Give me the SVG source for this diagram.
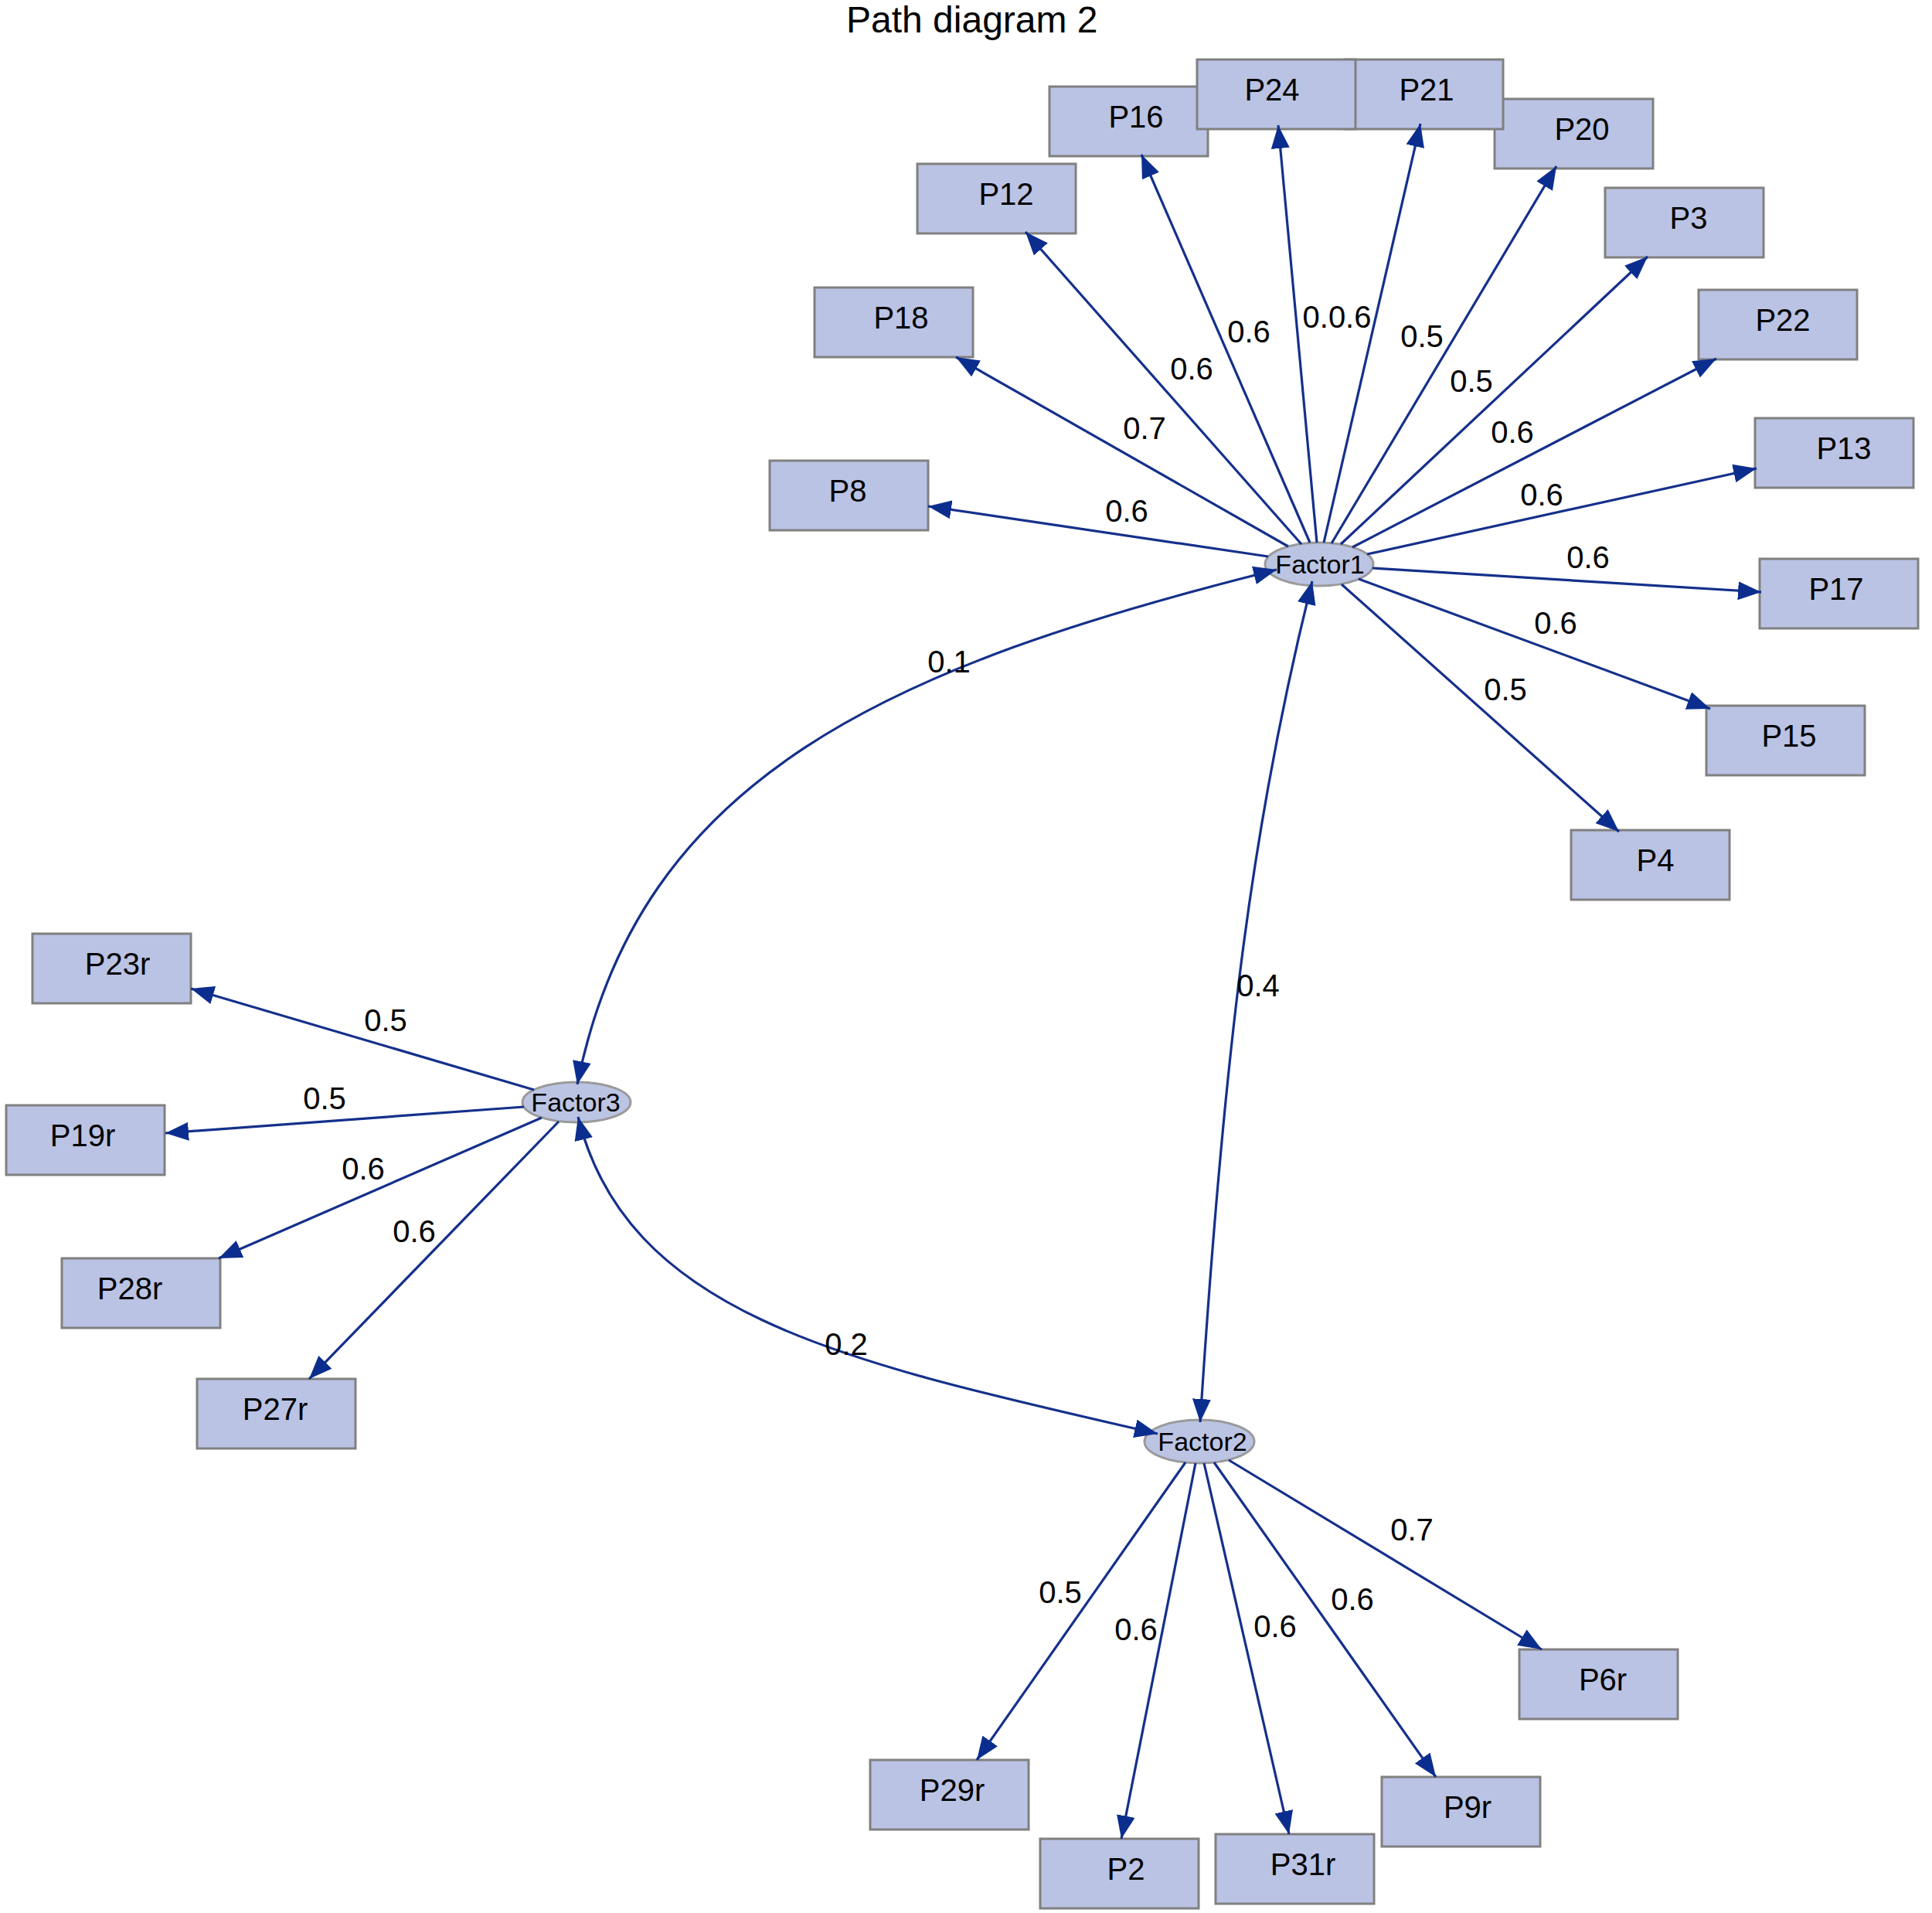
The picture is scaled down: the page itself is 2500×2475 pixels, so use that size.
<svg xmlns="http://www.w3.org/2000/svg" width="2500" height="2475" viewBox="0 0 2500 2475">
<defs>
<style>
text{font-family:"Liberation Sans",Arial,sans-serif;fill:#000}
.box rect{fill:#bac3e4;stroke:#808080;stroke-width:3}
.box text{font-size:40px;text-anchor:middle}
.fac ellipse{fill:#bcc4e4;stroke:#9a9a9a;stroke-width:3}
.fac text{font-size:34px;text-anchor:middle}
.e{stroke:#15308b;stroke-width:3.2;fill:none;marker-end:url(#ah)}
.c{marker-start:url(#ah)}
.lbl{font-size:40px;text-anchor:middle}
.title{font-size:48px}
</style>
<marker id="ah" viewBox="0 0 30 24" refX="30" refY="12" markerWidth="30" markerHeight="24" markerUnits="userSpaceOnUse" orient="auto-start-reverse"><path d="M0,0 L30,12 L0,24 z" fill="#0b2e8e"/></marker>
</defs>
<rect width="2500" height="2475" fill="#fff"/>
<text class="title" x="1095" y="42">Path diagram 2</text>

<g id="nodes">
<g id="P16" class="box"><rect x="1358" y="112" width="205" height="90"/><text x="1470" y="165">P16</text></g>
<g id="P20" class="box"><rect x="1934" y="128" width="205" height="90"/><text x="2047" y="181">P20</text></g>
<g id="P21" class="box"><rect x="1740" y="77" width="205" height="90"/><text x="1846" y="130">P21</text></g>
<g id="P24" class="box"><rect x="1549" y="77" width="205" height="90"/><text x="1646" y="130">P24</text></g>
<g id="P12" class="box"><rect x="1187" y="212" width="205" height="90"/><text x="1302" y="265">P12</text></g>
<g id="P3" class="box"><rect x="2077" y="243" width="205" height="90"/><text x="2185" y="296">P3</text></g>
<g id="P18" class="box"><rect x="1054" y="372" width="205" height="90"/><text x="1166" y="425">P18</text></g>
<g id="P22" class="box"><rect x="2198" y="375" width="205" height="90"/><text x="2307" y="428">P22</text></g>
<g id="P13" class="box"><rect x="2271" y="541" width="205" height="90"/><text x="2386" y="594">P13</text></g>
<g id="P8" class="box"><rect x="996" y="596" width="205" height="90"/><text x="1097" y="649">P8</text></g>
<g id="P17" class="box"><rect x="2277" y="723" width="205" height="90"/><text x="2376" y="776">P17</text></g>
<g id="P15" class="box"><rect x="2208" y="913" width="205" height="90"/><text x="2315" y="966">P15</text></g>
<g id="P4" class="box"><rect x="2033" y="1074" width="205" height="90"/><text x="2142" y="1127">P4</text></g>
<g id="P23r" class="box"><rect x="42" y="1208" width="205" height="90"/><text x="152" y="1261">P23r</text></g>
<g id="P19r" class="box"><rect x="8" y="1430" width="205" height="90"/><text x="107" y="1483">P19r</text></g>
<g id="P28r" class="box"><rect x="80" y="1628" width="205" height="90"/><text x="168" y="1681">P28r</text></g>
<g id="P27r" class="box"><rect x="255" y="1784" width="205" height="90"/><text x="356" y="1837">P27r</text></g>
<g id="P6r" class="box"><rect x="1966" y="2134" width="205" height="90"/><text x="2074" y="2187">P6r</text></g>
<g id="P29r" class="box"><rect x="1126" y="2277" width="205" height="90"/><text x="1232" y="2330">P29r</text></g>
<g id="P2" class="box"><rect x="1346" y="2379" width="205" height="90"/><text x="1457" y="2432">P2</text></g>
<g id="P31r" class="box"><rect x="1573" y="2373" width="205" height="90"/><text x="1686" y="2426">P31r</text></g>
<g id="P9r" class="box"><rect x="1788" y="2299" width="205" height="90"/><text x="1899" y="2352">P9r</text></g>
<g id="Factor1" class="fac"><ellipse cx="1707" cy="730" rx="70" ry="28"/><text x="1708" y="742">Factor1</text></g>
<g id="Factor3" class="fac"><ellipse cx="746" cy="1426" rx="70" ry="26"/><text x="745" y="1438">Factor3</text></g>
<g id="Factor2" class="fac"><ellipse cx="1552" cy="1865" rx="71" ry="28"/><text x="1556" y="1877">Factor2</text></g>
</g>

<g id="connectors">
<path class="e" d="M1641,720 L1201,655"/>
<path class="e" d="M1667,707 L1237,462"/>
<path class="e" d="M1684,704 L1327,300"/>
<path class="e" d="M1695,702 L1477,200"/>
<path class="e" d="M1704,702 L1654,162"/>
<path class="e" d="M1713,702 L1838,160"/>
<path class="e" d="M1723,703 L2014,215"/>
<path class="e" d="M1735,704 L2132,332"/>
<path class="e" d="M1750,708 L2221,464"/>
<path class="e" d="M1769,717 L2273,606"/>
<path class="e" d="M1776,735 L2279,766"/>
<path class="e" d="M1758,749 L2213,917"/>
<path class="e" d="M1736,756 L2095,1076"/>
<path class="e" d="M691,1410 L247,1279"/>
<path class="e" d="M678,1432 L214,1466"/>
<path class="e" d="M701,1446 L283,1628"/>
<path class="e" d="M723,1451 L400,1784"/>
<path class="e" d="M1534,1892 L1264,2277"/>
<path class="e" d="M1547,1893 L1451,2379"/>
<path class="e" d="M1558,1893 L1668,2373"/>
<path class="e" d="M1571,1892 L1858,2299"/>
<path class="e" d="M1590,1889 L1995,2134"/>
<path class="e c" d="M747,1403 C827,1003 1152,862 1652,737"/>
<path class="e c" d="M1698,752 C1623,1052 1585,1340 1553,1840"/>
<path class="e c" d="M748,1445 C813,1705 1098,1763 1498,1855"/>
<text class="lbl" x="1458" y="675">0.6</text>
<text class="lbl" x="1481" y="568">0.7</text>
<text class="lbl" x="1542" y="491">0.6</text>
<text class="lbl" x="1616" y="443">0.6</text>
<text class="lbl" x="1730" y="424">0.0.6</text>
<text class="lbl" x="1840" y="449">0.5</text>
<text class="lbl" x="1904" y="507">0.5</text>
<text class="lbl" x="1957" y="573">0.6</text>
<text class="lbl" x="1995" y="654">0.6</text>
<text class="lbl" x="2055" y="735">0.6</text>
<text class="lbl" x="2013" y="820">0.6</text>
<text class="lbl" x="1948" y="906">0.5</text>
<text class="lbl" x="1228" y="870">0.1</text>
<text class="lbl" x="1628" y="1289">0.4</text>
<text class="lbl" x="1095" y="1753">0.2</text>
<text class="lbl" x="499" y="1334">0.5</text>
<text class="lbl" x="420" y="1435">0.5</text>
<text class="lbl" x="470" y="1526">0.6</text>
<text class="lbl" x="536" y="1607">0.6</text>
<text class="lbl" x="1372" y="2074">0.5</text>
<text class="lbl" x="1470" y="2122">0.6</text>
<text class="lbl" x="1650" y="2118">0.6</text>
<text class="lbl" x="1750" y="2083">0.6</text>
<text class="lbl" x="1827" y="1993">0.7</text>
</g>
</svg>
